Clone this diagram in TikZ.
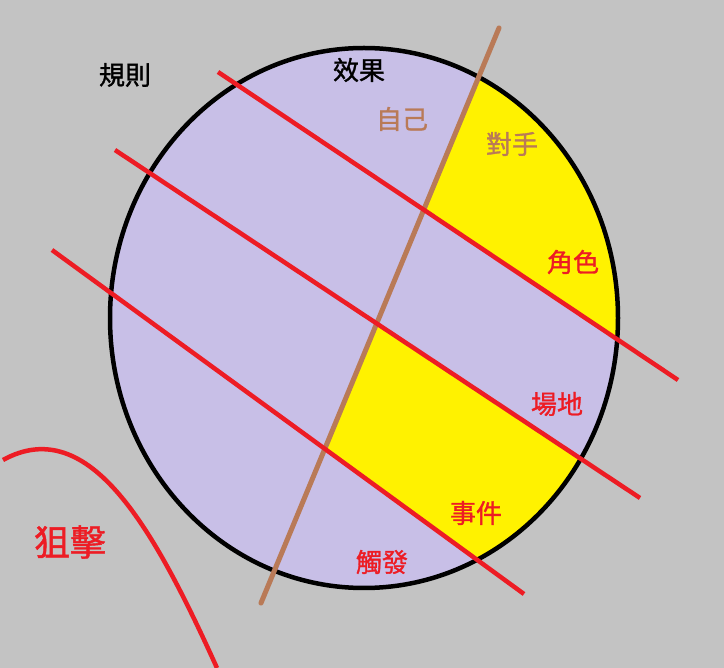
\documentclass[tikz,border=0pt]{standalone}
\usepackage{fontspec}
\setmainfont{Noto Sans CJK TC}
\newfontfamily\labelfont{Noto Sans CJK TC}[FakeBold=1.2]

\definecolor{paintgray}{HTML}{C3C3C3}
\definecolor{lavender}{HTML}{C8BFE7}
\definecolor{paintyellow}{HTML}{FFF200}
\definecolor{paintred}{HTML}{ED1C24}
\definecolor{paintbrown}{HTML}{B97A57}

\tikzset{
    redline/.style={draw=paintred,line width=4.5pt},
    brownline/.style={draw=paintbrown,line width=5pt,line cap=round},
    rim/.style={draw=black,line width=4.5pt},
    label/.style={font=\labelfont\fontsize{26}{26}\selectfont,inner sep=0pt}
}

\begin{document}
\begin{tikzpicture}[x=1pt,y=-1pt]

    \fill[paintgray] (0,0) rectangle (724,668);
    \useasboundingbox (0,0) rectangle (724,668);

    % end points of the lines
    \coordinate (b1) at (261,603);
    \coordinate (b2) at (499,28);
    \coordinate (r1a) at (218,72);
    \coordinate (r1b) at (678,380);
    \coordinate (r2a) at (115,150);
    \coordinate (r2b) at (640,498);
    \coordinate (r3a) at (52,250);
    \coordinate (r3b) at (524,594);
    \coordinate (c1) at (3,460);
    \coordinate (c2) at (217,668);

    \fill[lavender] (364,318) ellipse [x radius=254pt, y radius=270pt];

    \begin{scope}
        \clip (364,318) ellipse [x radius=254pt, y radius=270pt];
        \fill[paintyellow] (intersection of b1--b2 and r1a--r1b) -- (b2) -- (724,28) -- (r1b) -- cycle;
        \fill[paintyellow] (intersection of b1--b2 and r2a--r2b) -- (r2b) -- (r3b)
            -- (intersection of b1--b2 and r3a--r3b) -- cycle;
    \end{scope}

    \draw[rim] (364,318) ellipse [x radius=254pt, y radius=270pt];

    \draw[brownline] (b1) -- (b2);

    \begin{scope}[every path/.style={redline}]
        \draw (r1a) -- (r1b);
        \draw (r2a) -- (r2b);
        \draw (r3a) -- (r3b);
        \draw (c1) .. controls (90,412) and (155,531) .. (c2);
    \end{scope}

    \begin{scope}[every node/.style={label}]
        \node (rule) at (125,75) {規則};
        \node (effect) at (359,70) {效果};
        \node[text=paintbrown] (self) at (402,119) {自己};
        \node[text=paintbrown] (rival) at (512,144) {對手};
        \node[text=paintred] (role) at (573,262) {角色};
        \node[text=paintred] (field) at (557,404) {場地};
        \node[text=paintred] (event) at (476,513) {事件};
        \node[text=paintred] (trigger) at (382,562) {觸發};
        \node[text=paintred,font=\labelfont\fontsize{36}{36}\selectfont] (snipe) at (70,542) {狙擊};
    \end{scope}

\end{tikzpicture}
\end{document}
